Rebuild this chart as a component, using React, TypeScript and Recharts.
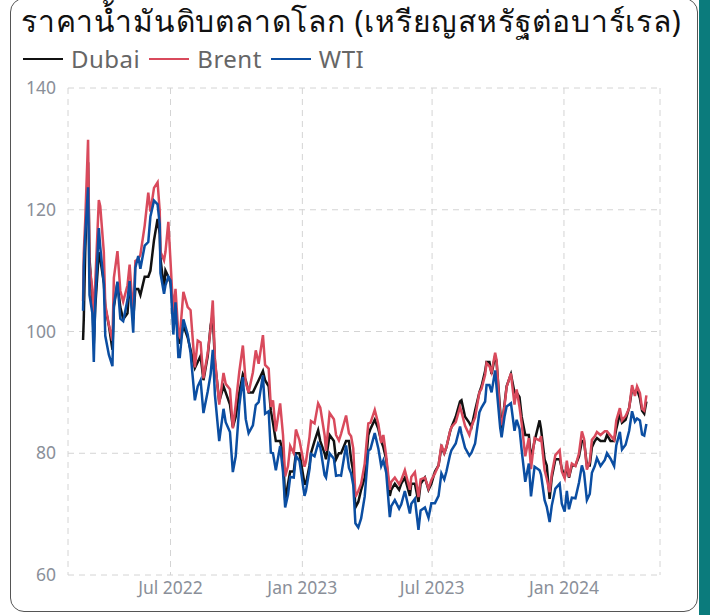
import React from "react";
import { LineChart, Line, XAxis, YAxis, CartesianGrid } from "recharts";

// ราคาน้ำมันดิบ (USD/bbl)
const dates2022 = [
  "2022-03-01", "2022-03-02", "2022-03-04", "2022-03-08", "2022-03-10", "2022-03-14", "2022-03-16", "2022-03-18",
  "2022-03-23", "2022-03-25", "2022-03-30", "2022-04-01", "2022-04-06", "2022-04-11", "2022-04-13", "2022-04-18",
  "2022-04-22", "2022-04-26", "2022-05-02", "2022-05-05", "2022-05-10", "2022-05-13", "2022-05-17", "2022-05-20",
  "2022-05-26", "2022-05-31", "2022-06-03", "2022-06-08", "2022-06-13", "2022-06-16", "2022-06-17", "2022-06-22",
  "2022-06-24", "2022-06-28", "2022-07-01", "2022-07-05", "2022-07-08", "2022-07-12", "2022-07-14", "2022-07-19",
  "2022-07-25", "2022-07-29", "2022-08-04", "2022-08-08", "2022-08-12", "2022-08-16", "2022-08-22", "2022-08-26",
  "2022-08-29", "2022-09-01", "2022-09-07", "2022-09-13", "2022-09-16", "2022-09-22", "2022-09-26", "2022-09-30",
  "2022-10-05", "2022-10-10", "2022-10-14", "2022-10-18", "2022-10-24", "2022-10-28", "2022-11-01", "2022-11-07",
  "2022-11-10", "2022-11-15", "2022-11-18", "2022-11-21", "2022-11-25", "2022-12-01", "2022-12-05", "2022-12-08",
  "2022-12-12", "2022-12-15", "2022-12-20", "2022-12-23", "2022-12-28",
];
const dubai2022 = [
  98.6, 102.0, 113.0, 127.8, 112.0, 105.0, 98.0, 104.0,
  113.0, 112.0, 108.0, 104.0, 101.0, 97.0, 104.0, 108.0,
  104.0, 102.0, 103.0, 108.0, 102.0, 107.0, 107.0, 106.0,
  109.0, 109.0, 110.0, 115.0, 118.5, 116.0, 112.0, 107.0,
  110.0, 109.0, 108.0, 104.0, 104.0, 99.0, 98.0, 101.0,
  99.0, 97.0, 94.0, 95.0, 96.0, 92.0, 96.0, 101.0,
  102.7, 95.0, 88.5, 91.0, 90.0, 88.0, 84.3, 86.0,
  90.0, 93.0, 92.0, 90.0, 90.0, 91.0, 92.0, 93.5,
  92.0, 91.0, 87.0, 85.0, 82.0, 82.0, 80.0, 72.3,
  75.0, 77.0, 77.0, 80.0, 80.0,
];
const brent2022 = [
  105.0, 112.9, 118.1, 131.5, 111.0, 106.9, 100.0, 107.9,
  121.6, 120.6, 113.0, 104.4, 101.1, 98.5, 108.8, 113.2,
  106.7, 104.9, 107.6, 111.0, 102.5, 111.6, 111.9, 112.6,
  117.4, 122.8, 119.7, 123.6, 124.5, 119.8, 113.1, 111.7,
  113.1, 118.0, 111.6, 102.8, 107.0, 99.5, 99.1, 106.5,
  104.0, 103.5, 94.1, 98.5, 98.2, 92.3, 96.5, 100.5,
  105.1, 95.5, 88.0, 93.2, 91.4, 90.5, 84.1, 88.0,
  93.4, 97.7, 91.6, 90.0, 93.3, 96.9, 94.7, 99.4,
  94.5, 93.9, 87.6, 88.7, 83.6, 88.2, 83.0, 76.2,
  77.9, 81.2, 80.0, 83.9, 82.1,
];
const wti2022 = [
  103.4, 110.6, 115.7, 123.7, 106.0, 103.0, 95.0, 104.7,
  117.0, 113.9, 107.8, 99.3, 96.2, 94.3, 104.3, 108.2,
  102.1, 101.7, 105.2, 108.3, 99.8, 110.5, 112.4, 110.3,
  114.1, 114.7, 118.9, 121.5, 120.9, 117.6, 109.6, 106.2,
  107.6, 109.0, 108.4, 99.5, 104.8, 95.8, 95.8, 102.0,
  99.5, 96.5, 88.7, 91.0, 92.0, 86.6, 90.2, 93.0,
  97.0, 89.6, 82.0, 87.3, 85.1, 83.5, 76.9, 79.5,
  87.8, 92.5, 85.6, 83.3, 84.6, 87.9, 88.4, 92.8,
  86.5, 86.9, 80.1, 80.0, 77.2, 81.2, 76.9, 71.1,
  73.2, 76.1, 76.0, 79.6, 78.7,
];

const dates2023 = [
  "2023-01-04", "2023-01-06", "2023-01-11", "2023-01-13", "2023-01-18", "2023-01-23", "2023-01-26", "2023-02-01",
  "2023-02-03", "2023-02-08", "2023-02-14", "2023-02-17", "2023-02-21", "2023-02-24", "2023-03-03", "2023-03-07",
  "2023-03-10", "2023-03-13", "2023-03-16", "2023-03-20", "2023-03-24", "2023-03-29", "2023-04-03", "2023-04-06",
  "2023-04-12", "2023-04-17", "2023-04-21", "2023-04-24", "2023-04-28", "2023-05-03", "2023-05-05", "2023-05-10",
  "2023-05-16", "2023-05-19", "2023-05-24", "2023-05-31", "2023-06-02", "2023-06-07", "2023-06-12", "2023-06-15",
  "2023-06-21", "2023-06-26", "2023-06-30", "2023-07-05", "2023-07-10", "2023-07-14", "2023-07-18", "2023-07-21",
  "2023-07-26", "2023-07-28", "2023-08-03", "2023-08-09", "2023-08-11", "2023-08-16", "2023-08-22", "2023-08-25",
  "2023-08-30", "2023-09-05", "2023-09-08", "2023-09-13", "2023-09-15", "2023-09-19", "2023-09-22", "2023-09-27",
  "2023-09-29", "2023-10-04", "2023-10-06", "2023-10-10", "2023-10-13", "2023-10-19", "2023-10-24", "2023-10-27",
  "2023-10-31", "2023-11-03", "2023-11-08", "2023-11-13", "2023-11-16", "2023-11-21", "2023-11-28", "2023-11-30",
  "2023-12-05", "2023-12-08", "2023-12-12", "2023-12-15", "2023-12-20", "2023-12-26", "2023-12-29",
];
const dubai2023 = [
  75.0, 75.0, 78.0, 80.0, 82.0, 83.8, 82.0, 80.0,
  79.0, 83.0, 82.0, 79.0, 80.0, 80.0, 82.0, 82.0,
  79.0, 77.0, 71.1, 72.0, 74.0, 76.0, 83.0, 84.0,
  85.5, 84.0, 82.0, 81.0, 79.0, 73.0, 74.0, 75.0,
  74.0, 75.0, 76.0, 73.0, 75.0, 75.0, 72.0, 75.0,
  76.0, 74.0, 75.0, 77.0, 78.0, 81.0, 80.0, 81.0,
  83.5, 84.3, 86.0, 88.5, 88.7, 86.0, 85.0, 84.3,
  87.0, 90.0, 91.0, 93.5, 95.0, 95.0, 93.0, 96.0,
  95.0, 87.0, 84.0, 88.0, 91.0, 93.0, 90.0, 90.0,
  89.2, 86.0, 83.0, 83.0, 79.0, 82.0, 85.4, 84.0,
  79.0, 78.0, 72.5, 76.0, 79.0, 79.0, 77.5,
];
const brent2023 = [
  77.8, 78.6, 82.7, 85.3, 84.9, 88.2, 87.5, 83.0,
  80.4, 86.6, 85.6, 83.0, 82.1, 83.2, 86.2, 83.3,
  82.8, 80.8, 72.8, 73.8, 75.0, 78.3, 84.9, 85.0,
  87.1, 84.8, 81.7, 83.0, 79.5, 74.0, 75.3, 76.0,
  74.9, 75.6, 77.2, 74.0, 76.1, 76.9, 72.8, 75.7,
  76.0, 74.2, 75.6, 76.7, 78.0, 81.4, 80.0, 81.0,
  83.6, 84.3, 85.1, 87.6, 86.8, 84.5, 83.0, 84.4,
  85.9, 90.0, 90.6, 92.9, 94.8, 94.3, 93.3, 96.5,
  95.3, 85.8, 84.6, 87.7, 90.9, 93.1, 88.0, 90.5,
  87.6, 84.9, 79.5, 82.5, 77.4, 82.5, 82.1, 82.8,
  77.2, 75.8, 73.6, 76.6, 79.7, 80.5, 77.0,
];
const wti2023 = [
  73.0, 73.8, 77.4, 79.9, 79.5, 81.6, 81.0, 76.4,
  76.0, 80.0, 79.1, 76.3, 76.4, 76.3, 81.3, 77.6,
  76.7, 74.8, 68.5, 67.8, 69.3, 72.9, 80.4, 80.7,
  83.3, 80.8, 77.9, 78.8, 76.8, 69.5, 71.3, 72.3,
  70.9, 71.6, 73.8, 70.1, 71.7, 72.5, 67.4, 70.6,
  71.1, 69.4, 71.8, 71.8, 73.0, 76.7, 75.7, 77.0,
  79.7, 80.5, 81.6, 84.4, 83.2, 80.9, 79.6, 80.1,
  81.6, 86.7, 87.5, 88.5, 91.2, 91.2, 90.0, 93.6,
  90.8, 84.2, 82.6, 86.0, 87.7, 88.2, 83.7, 85.5,
  84.0, 80.5, 75.3, 78.3, 72.9, 77.8, 77.2, 76.5,
  72.3, 71.2, 68.7, 71.4, 74.2, 75.0, 71.7,
];

const dates2024 = [
  "2024-01-02", "2024-01-05", "2024-01-08", "2024-01-12", "2024-01-17", "2024-01-22", "2024-01-26", "2024-01-29",
  "2024-02-02", "2024-02-06", "2024-02-09", "2024-02-13", "2024-02-16", "2024-02-21", "2024-02-27", "2024-03-01",
  "2024-03-06", "2024-03-11", "2024-03-14", "2024-03-19", "2024-03-22", "2024-03-27", "2024-04-01", "2024-04-05",
  "2024-04-09", "2024-04-12", "2024-04-16", "2024-04-19", "2024-04-22", "2024-04-25",
];
const dubai2024 = [
  76.0, 78.0, 76.0, 78.0, 78.0, 79.5, 82.0, 82.0,
  78.0, 78.0, 81.0, 82.0, 82.5, 82.0, 82.0, 83.0,
  82.0, 82.0, 84.0, 86.5, 85.0, 85.5, 87.5, 90.5,
  90.0, 90.5, 89.0, 87.0, 86.5, 88.5,
];
const brent2024 = [
  75.9, 78.8, 76.1, 78.3, 77.9, 80.0, 83.6, 82.4,
  77.3, 78.6, 82.2, 82.8, 83.5, 83.0, 83.6, 83.6,
  82.9, 82.2, 85.4, 87.4, 85.4, 86.1, 87.4, 91.2,
  89.4, 91.0, 89.9, 87.3, 87.0, 89.5,
];
const wti2024 = [
  70.4, 73.8, 70.8, 72.7, 72.6, 75.2, 78.0, 76.8,
  72.3, 73.3, 76.8, 77.9, 79.2, 77.9, 78.9, 80.0,
  79.1, 77.9, 81.3, 83.5, 80.6, 81.4, 83.7, 86.9,
  85.2, 85.7, 85.4, 83.1, 82.9, 84.8,
];

const xTickDates = ["2022-07-01", "2023-01-01", "2023-07-01", "2024-01-01"];
const xTickLabels = ["Jul 2022", "Jan 2023", "Jul 2023", "Jan 2024"];
const yTicks = [60, 80, 100, 120, 140];

const series = [
  { key: "dubai", name: "Dubai", color: "#111111" },
  { key: "brent", name: "Brent", color: "#d94a5c" },
  { key: "wti", name: "WTI", color: "#0b4ea2" },
];

const ts = (d: string) => Date.parse(d + "T00:00:00Z");

const allDates = [...dates2022, ...dates2023, ...dates2024];
const allDubai = [...dubai2022, ...dubai2023, ...dubai2024];
const allBrent = [...brent2022, ...brent2023, ...brent2024];
const allWti = [...wti2022, ...wti2023, ...wti2024];

const data = allDates.map((d, i) => ({
  t: ts(d),
  dubai: allDubai[i],
  brent: allBrent[i],
  wti: allWti[i],
}));

const xTicks = xTickDates.map(ts);
const tickLabel = (v: number) => xTickLabels[xTicks.indexOf(v)] ?? "";

const font = "'Noto Sans', 'Open Sans', sans-serif";

export default function App() {
  return (
    <div style={{ position: "absolute", left: 0, top: 0, width: 710, height: 615, background: "#fff", overflow: "hidden", fontFamily: font }}>
      <div style={{ position: "absolute", left: 699, top: 0, width: 11, height: 615, background: "#0b7b7c" }} />
      <div
        style={{
          position: "absolute",
          left: 10,
          top: -2,
          width: 686,
          height: 612,
          border: "1.5px solid #555",
          borderRadius: 14,
          background: "#fff",
        }}
      />
      <div
        style={{
          position: "absolute",
          left: 21,
          top: 1,
          fontSize: 30,
          letterSpacing: 0.8,
          color: "#111",
          whiteSpace: "nowrap",
          lineHeight: "40px",
        }}
      >
        ราคาน้ำมันดิบตลาดโลก (เหรียญสหรัฐต่อบาร์เรล)
      </div>
      <div
        style={{
          position: "absolute",
          left: 23,
          top: 44,
          display: "flex",
          alignItems: "center",
          fontSize: 24,
          letterSpacing: 0.5,
          color: "#666",
          lineHeight: "30px",
        }}
      >
        {series.map((s) => (
          <div key={s.key} style={{ display: "flex", alignItems: "center", marginRight: 9 }}>
            <span style={{ display: "inline-block", width: 40, height: 2.5, background: s.color, marginRight: 8 }} />
            <span>{s.name}</span>
          </div>
        ))}
      </div>
      <div style={{ position: "absolute", left: 0, top: 0 }}>
        <LineChart width={710} height={615} data={data} margin={{ top: 88, right: 50, bottom: 10, left: 8 }}>
          <CartesianGrid stroke="#d4d4d4" strokeDasharray="6 5" />
          <XAxis
            dataKey="t"
            type="number"
            scale="time"
            domain={[ts("2022-02-08"), ts("2024-05-14")]}
            ticks={xTicks}
            tickFormatter={tickLabel}
            axisLine={false}
            tickLine={false}
            tickSize={6}
            tickMargin={1}
            height={30}
            tick={{ fill: "#8a8f99", fontSize: 17.5, fontFamily: font }}
          />
          <YAxis
            type="number"
            domain={[60, 140]}
            ticks={yTicks}
            axisLine={false}
            tickLine={false}
            tickSize={6}
            tickMargin={6}
            width={60}
            tick={{ fill: "#8a8f99", fontSize: 17.5, fontFamily: font }}
          />
          {series.map((s) => (
            <Line
              key={s.key}
              dataKey={s.key}
              name={s.name}
              stroke={s.color}
              strokeWidth={2.5}
              dot={false}
              type="linear"
              isAnimationActive={false}
            />
          ))}
        </LineChart>
      </div>
    </div>
  );
}
